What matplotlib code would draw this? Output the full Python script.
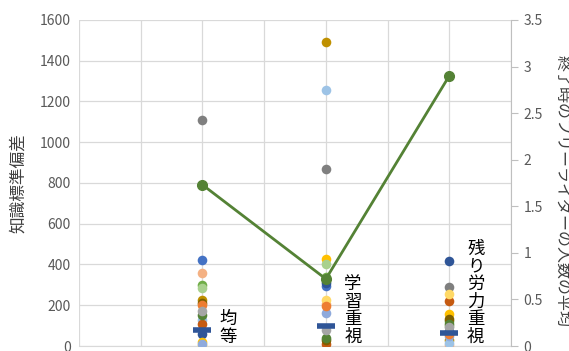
import matplotlib
matplotlib.use("Agg")
import matplotlib.pyplot as plt

plt.rcParams['font.family'] = ['Noto Sans CJK JP', 'DejaVu Sans']

categories = ["均等", "学習重視", "残り労力重視"]
cat_x = [2, 4, 6]

series_colors = ['#4472C4', '#F4B183', '#7F7F7F', '#BF9000', '#9DC3E6', '#70AD47',
                 '#2F5597', '#C55A11', '#FFC000', '#A9D18E', '#7F6000', '#FFD966',
                 '#8FAADC', '#548235', '#ED7D31', '#A5A5A5']
series_values = [
    [422, 295, 75],
    [360, 205, 5],
    [1109, 870, 290],
    [225, 1490, 30],
    [130, 1255, 15],
    [300, 340, 125],
    [60, 310, 415],
    [110, 10, 220],
    [20, 425, 155],
    [285, 400, 100],
    [210, 30, 135],
    [5, 225, 255],
    [10, 160, 50],
    [150, 40, 110],
    [200, 195, 60],
    [170, 80, 95],
]
mean_values = [80, 98, 66]
freerider_avg = [1.73, 0.72, 2.9]

fig = plt.figure(figsize=(5.69, 3.51), dpi=100)
ax = fig.add_axes([0.139, 0.0142, 0.759, 0.929])
ax2 = ax.twinx()

for col, vals in zip(series_colors, series_values):
    ax.scatter(cat_x, vals, s=48, color=col, zorder=3, linewidths=0)

ax.plot(cat_x, mean_values, linestyle='none', marker='_', markersize=13,
        markeredgewidth=4, color='#2F5597', zorder=4)

ax2.plot(cat_x, freerider_avg, color='#548235', linewidth=2, marker='o',
         markersize=7, zorder=5)

ax.set_xlim(0, 7)
ax.set_ylim(0, 1600)
ax2.set_ylim(0, 3.5)
ax.set_xticks(range(0, 8))
ax.set_xticklabels([])
ax.tick_params(axis='x', length=0)
ax.set_yticks(range(0, 1601, 200))
ax.tick_params(axis='y', length=0, labelsize=10, labelcolor='#595959', pad=6)
ax.grid(True, color='#D9D9D9', linewidth=0.9)
ax.set_axisbelow(True)

ax2.set_yticks([0, 0.5, 1, 1.5, 2, 2.5, 3, 3.5])
ax2.set_yticklabels(['0', '0.5', '1', '1.5', '2', '2.5', '3', '3.5'])
ax2.tick_params(axis='y', length=5, color='#BFBFBF', labelsize=10,
                labelcolor='#595959', pad=4)

for side in ['top', 'left']:
    ax.spines[side].set_visible(False)
    ax2.spines[side].set_visible(False)
ax.spines['right'].set_visible(False)
ax2.spines['bottom'].set_visible(False)
ax.spines['bottom'].set_color('#D9D9D9')
ax2.spines['right'].set_color('#BFBFBF')

ax.set_ylabel("知識標準偏差", fontsize=12, color='#404040', va='center', ha='center')
ax.yaxis.set_label_coords((18 - 79) / 432, 0.5)
ax2.set_ylabel("終了時のフリーライダーの人数の平均", fontsize=11.5, color='#404040',
               rotation=270, va='center', ha='center')
ax2.yaxis.set_label_coords((562 - 79) / 432, 0.475)

label_x = [2.42, 4.44, 6.43]
for x, name in zip(label_x, categories):
    ax.text(x, 0, "\n".join(name), fontsize=12.5, color='black', ha='center',
            va='bottom', linespacing=0.98, zorder=6)

fig.savefig("out.png", dpi=100)
